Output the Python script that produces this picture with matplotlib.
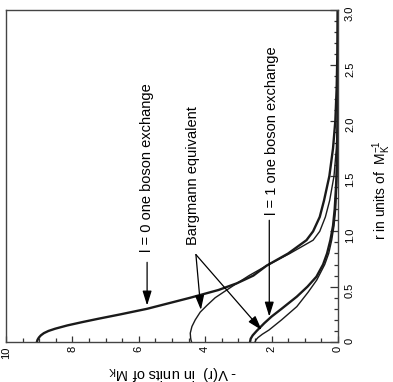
import numpy as np
import matplotlib
matplotlib.use('Agg')
import matplotlib.pyplot as plt
from matplotlib.ticker import MultipleLocator, FuncFormatter

plt.rcParams['font.family'] = ['Liberation Sans', 'DejaVu Sans']
plt.rcParams['mathtext.fontset'] = 'custom'
plt.rcParams['mathtext.rm'] = 'Liberation Sans'
plt.rcParams['mathtext.it'] = 'Liberation Sans'

# curves: r (in 1/M_K) and -V(r) (in M_K)
r_obe0 = [0, 0.02, 0.04, 0.06, 0.08, 0.10, 0.12, 0.15, 0.18, 0.21, 0.25, 0.30, 0.35, 0.40,
          0.47, 0.53, 0.60, 0.69, 0.80, 0.92, 1.0, 1.13, 1.28, 1.5, 1.75, 2.0, 2.3, 2.6, 3.0]
v_obe0 = [9.07, 9.05, 9.01, 8.95, 8.86, 8.72, 8.52, 8.15, 7.7, 7.22, 6.55, 5.75, 5.1, 4.45,
          3.6, 3.05, 2.55, 2.15, 1.5, 0.95, 0.75, 0.55, 0.42, 0.26, 0.15, 0.08, 0.04, 0.02, 0.01]

r_barg0 = [0, 0.02, 0.04, 0.08, 0.14, 0.20, 0.27, 0.33, 0.40, 0.50, 0.60, 0.69, 0.80, 0.92,
           1.0, 1.13, 1.28, 1.5, 1.75, 2.0, 2.3, 3.0]
v_barg0 = [4.41, 4.43, 4.44, 4.45, 4.4, 4.3, 4.15, 3.95, 3.7, 3.2, 2.68, 2.15, 1.45, 0.75,
           0.55, 0.38, 0.25, 0.12, 0.05, 0.02, 0.005, 0.0]

r_obe1 = [0, 0.03, 0.06, 0.10, 0.17, 0.23, 0.30, 0.41, 0.50, 0.59, 0.70, 0.80, 0.92, 1.05,
          1.2, 1.4, 1.6, 1.8, 2.1, 2.5, 3.0]
v_obe1 = [2.65, 2.63, 2.57, 2.45, 2.22, 2.0, 1.7, 1.24, 0.92, 0.65, 0.45, 0.33, 0.23, 0.15,
          0.1, 0.06, 0.035, 0.02, 0.01, 0.0, 0.0]

r_barg1 = [0, 0.02, 0.04, 0.07, 0.108, 0.2, 0.32, 0.45, 0.56, 0.7, 0.8, 0.92, 1.05, 1.2,
           1.4, 1.6, 1.9, 2.3, 3.0]
v_barg1 = [2.5, 2.47, 2.41, 2.28, 2.08, 1.7, 1.24, 0.9, 0.64, 0.4, 0.28, 0.19, 0.12, 0.07,
           0.04, 0.02, 0.01, 0.0, 0.0]

# annotations: text, text position (-V, r), arrow start, arrow tips
labels = ['l = 0 one boson exchange', 'Bargmann equivalent', 'l = 1 one boson exchange']
label_pos = [(5.75, 1.58), (4.37, 1.50), (2.0, 1.91)]
arrow_start = [(5.75, 0.72), (4.28, 0.79), (2.07, 1.10)]
arrow_tips = [[(5.75, 0.33)], [(4.13, 0.29), (2.3, 0.108)], [(2.07, 0.23)]]

fig = plt.figure(figsize=(3.93, 3.82), dpi=100)
ax = fig.add_axes([6 / 393, 1 - 342 / 382, 332 / 393, 332 / 382])

line_col = '#1a1a1a'
ax.plot(v_obe0, r_obe0, color=line_col, lw=1.7)
ax.plot(v_barg0, r_barg0, color=line_col, lw=1.0)
ax.plot(v_obe1, r_obe1, color=line_col, lw=1.7)
ax.plot(v_barg1, r_barg1, color=line_col, lw=1.0)

ax.set_xlim(10, 0)
ax.set_ylim(0, 3)

ax.yaxis.tick_right()
ax.xaxis.set_major_locator(MultipleLocator(2))
ax.xaxis.set_minor_locator(MultipleLocator(0.5))
ax.yaxis.set_major_locator(MultipleLocator(0.5))
ax.yaxis.set_minor_locator(MultipleLocator(0.1))
ax.xaxis.set_major_formatter(FuncFormatter(lambda v, p: '%d' % round(v)))
ax.yaxis.set_major_formatter(FuncFormatter(lambda v, p: '0' if v == 0 else '%.1f' % v))
ax.tick_params(which='both', direction='in', colors='#333333', width=0.9)
ax.tick_params(axis='x', which='major', length=4, labelsize=8, labelrotation=90, pad=3)
ax.tick_params(axis='x', which='minor', length=3)
ax.tick_params(axis='y', which='major', length=6, labelsize=8, labelrotation=90, pad=5)
ax.tick_params(axis='y', which='minor', length=3)
for lab in ax.get_xticklabels() + ax.get_yticklabels():
    lab.set_color('black')
for s in ax.spines.values():
    s.set_color('#444444')
    s.set_linewidth(1.0)

for txt, pos, st, tips in zip(labels, label_pos, arrow_start, arrow_tips):
    ax.text(pos[0], pos[1], txt, rotation=90, ha='center', va='center', fontsize=10.5)
    for tip in tips:
        ax.annotate('', xy=tip, xytext=st,
                    arrowprops=dict(arrowstyle='-|>,head_length=0.8,head_width=0.25',
                                    color='black', lw=0.9, mutation_scale=11,
                                    shrinkA=0, shrinkB=0))

fig.text(382 / 393, 1 - 190 / 382, r'r in units of  $\mathregular{M_K^{-1}}$', rotation=90,
         ha='center', va='center', fontsize=10)
fig.text(172 / 393, 1 - 373 / 382, r'- V(r)  in units of M$\mathregular{_K}$', rotation=180,
         ha='center', va='center', fontsize=10.5)

fig.savefig('out.png', dpi=100)
